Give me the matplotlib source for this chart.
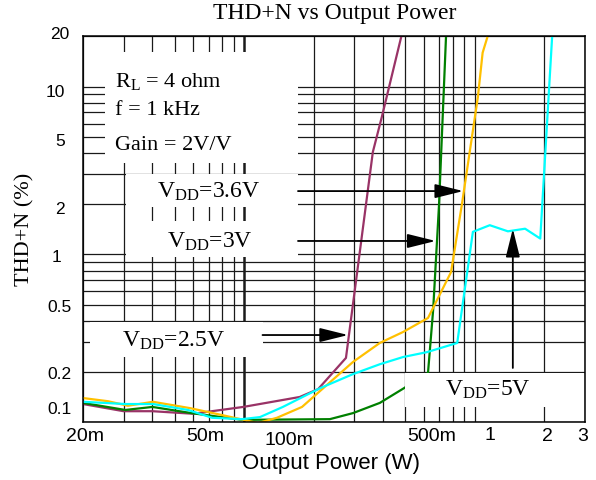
import matplotlib.pyplot as plt
from matplotlib.patches import Rectangle
from matplotlib.transforms import ScaledTranslation

plt.rcParams['mathtext.fontset'] = 'custom'
plt.rcParams['mathtext.rm'] = 'Liberation Serif'
plt.rcParams['mathtext.it'] = 'Liberation Serif:italic'

# output power (W) and THD+N (%), per supply voltage
vdd25_w = [0.020, 0.030, 0.040, 0.060, 0.099, 0.174, 0.209, 0.276, 0.361, 0.395, 0.478]
vdd25_thd = [0.128, 0.116, 0.116, 0.112, 0.123, 0.141, 0.157, 0.241, 4.07, 6.6, 19.5]

vdd3_w = [0.020, 0.0305, 0.040, 0.059, 0.098, 0.235, 0.296, 0.387, 0.492, 0.626, 0.659, 0.699, 0.749]
vdd3_thd = [0.130, 0.118, 0.123, 0.113, 0.103, 0.104, 0.113, 0.130, 0.159, 0.196, 0.465, 1.98, 19.5]

vdd36_w = [0.020, 0.0257, 0.0313, 0.0402, 0.0582, 0.0826, 0.1146, 0.1386, 0.178, 0.296, 0.387,
           0.488, 0.626, 0.788, 0.88, 1.03, 1.08, 1.13]
vdd36_thd = [0.139, 0.133, 0.125, 0.132, 0.121, 0.109, 0.0986, 0.106, 0.123, 0.228, 0.296,
             0.344, 0.417, 0.783, 2.02, 8.65, 15.9, 19.5]

vdd5_w = [0.020, 0.0305, 0.0402, 0.057, 0.0726, 0.0978, 0.117, 0.147, 0.213, 0.296, 0.387,
          0.488, 0.62, 0.838, 0.98, 1.16, 1.39, 1.65, 1.92, 2.16]
vdd5_thd = [0.132, 0.128, 0.128, 0.118, 0.106, 0.104, 0.107, 0.123, 0.159, 0.193, 0.221,
            0.244, 0.261, 0.296, 1.36, 1.49, 1.37, 1.42, 1.24, 19.5]

x_ticks = [0.02, 0.05, 0.1, 0.5, 1, 2, 3]
x_labels = ['20m', '50m', '100m', '500m', '1', '2', '3']
x_minor = [0.03, 0.04, 0.06, 0.07, 0.08, 0.09, 0.2, 0.3, 0.4, 0.6, 0.7, 0.8, 0.9]
y_ticks = [0.1, 0.2, 0.5, 1, 2, 5, 10, 20]
y_labels = ['0.1', '0.2', '0.5', '1', '2', '5', '10', '20']
y_minor = [0.3, 0.4, 0.6, 0.7, 0.8, 0.9, 3, 4, 6, 7, 8, 9]

serif = 'Liberation Serif'
sans = 'Liberation Sans'

fig = plt.figure(figsize=(5.96, 4.8), dpi=100)
ax = fig.add_axes([0.1393, 0.1208, 0.8422, 0.8042])
ax.set_xscale('log')
ax.set_yscale('log')
ax.set_xlim(0.02, 3)
ax.set_ylim(0.1, 20)

ax.set_xticks(x_ticks)
ax.set_xticklabels(x_labels)
ax.set_xticks(x_minor, minor=True)
ax.set_yticks(y_ticks)
ax.set_yticklabels(y_labels)
ax.set_yticks(y_minor, minor=True)
ax.xaxis.set_minor_formatter(plt.NullFormatter())
ax.yaxis.set_minor_formatter(plt.NullFormatter())
ax.tick_params(which='both', length=0)
ax.tick_params(axis='x', pad=4, labelsize=14)
ax.tick_params(axis='y', pad=9.5, labelsize=12.5)
ax.set_axisbelow(True)
ax.grid(True, which='both', color='#1a1a1a', lw=0.9)
ax.get_xgridlines()[2].set_linewidth(1.8)
for s in ax.spines.values():
    s.set_linewidth(1.1)

# hand placed tick labels in the reference, offsets in px (right, down)
x_off = [(2, 0), (30, 0), (45, 4), (26, 0), (15, -1), (3, 0), (-2, 0)]
for lab, (dx, dy) in zip(ax.get_xticklabels(), x_off):
    lab.set_fontfamily(sans)
    lab.set_transform(lab.get_transform() + ScaledTranslation(dx / 100, -dy / 100, fig.dpi_scale_trans))
y_off = [(2, -14), (2, 1.5), (2, 1.5), (-8, 2), (-5, 4.5), (-5, 3), (-5, 4.5), (0, -3)]
for lab, (dx, dy) in zip(ax.get_yticklabels(), y_off):
    lab.set_fontfamily(sans)
    lab.set_transform(lab.get_transform() + ScaledTranslation(dx / 100, -dy / 100, fig.dpi_scale_trans))

lw = 1.6
ax.plot(vdd25_w, vdd25_thd, color='#993366', lw=lw, zorder=2)
ax.plot(vdd3_w, vdd3_thd, color='#008000', lw=lw, zorder=2)
ax.plot(vdd36_w, vdd36_thd, color='#FFC000', lw=lw, zorder=2)
ax.plot(vdd5_w, vdd5_thd, color='#00FFFF', lw=lw, zorder=2)

# white label boxes that blank out the grid
boxes = [(0.044, 0.671, 0.384, 0.288), (0.086, 0.557, 0.343, 0.086),
         (0.086, 0.427, 0.343, 0.094), (0.014, 0.168, 0.345, 0.091),
         (0.641, 0.039, 0.357, 0.088)]
for bx, by, bw, bh in boxes:
    ax.add_patch(Rectangle((bx, by), bw, bh, transform=ax.transAxes,
                           facecolor='white', edgecolor='none', zorder=3))

tkw = dict(transform=ax.transAxes, family=serif, zorder=4, va='baseline')
ax.text(0.064, 0.868, r'R$_{\mathrm{L}}$ = 4 ohm', fontsize=16, **tkw)
ax.text(0.064, 0.795, 'f = 1 kHz', fontsize=16, **tkw)
ax.text(0.064, 0.705, 'Gain = 2V/V', fontsize=16, **tkw)
ax.text(0.251, 0.580, r'V$_{\mathrm{DD}}$=3.6V', fontsize=17, ha='center', **tkw)
ax.text(0.253, 0.451, r'V$_{\mathrm{DD}}$=3V', fontsize=17, ha='center', **tkw)
ax.text(0.181, 0.194, r'V$_{\mathrm{DD}}$=2.5V', fontsize=17, ha='center', **tkw)
ax.text(0.807, 0.067, r'V$_{\mathrm{DD}}$=5V', fontsize=17, ha='center', **tkw)

akw = dict(arrowstyle='-|>,head_length=1.45,head_width=0.36', color='black',
           lw=1.3, shrinkA=0, shrinkB=0, mutation_scale=12)
ax.annotate('', xy=(0.89, 2.38), xytext=(0.171, 2.38), arrowprops=akw, zorder=5)
ax.annotate('', xy=(0.676, 1.20), xytext=(0.171, 1.20), arrowprops=akw, zorder=5)
ax.annotate('', xy=(0.282, 0.330), xytext=(0.120, 0.330), arrowprops=akw, zorder=5)
ax.annotate('', xy=(1.46, 1.42), xytext=(1.46, 0.210), arrowprops=akw, zorder=5)

fig.text(0.562, 0.972, 'THD+N vs Output Power', family=serif, fontsize=17,
         ha='center', va='center')
fig.text(0.555, 0.035, 'Output Power (W)', family=sans, fontsize=16,
         ha='center', va='center')
fig.text(0.042, 0.523, 'THD+N (%)', family=serif, fontsize=16, rotation=90,
         ha='center', va='center')

fig.savefig('out.png', dpi=100)
